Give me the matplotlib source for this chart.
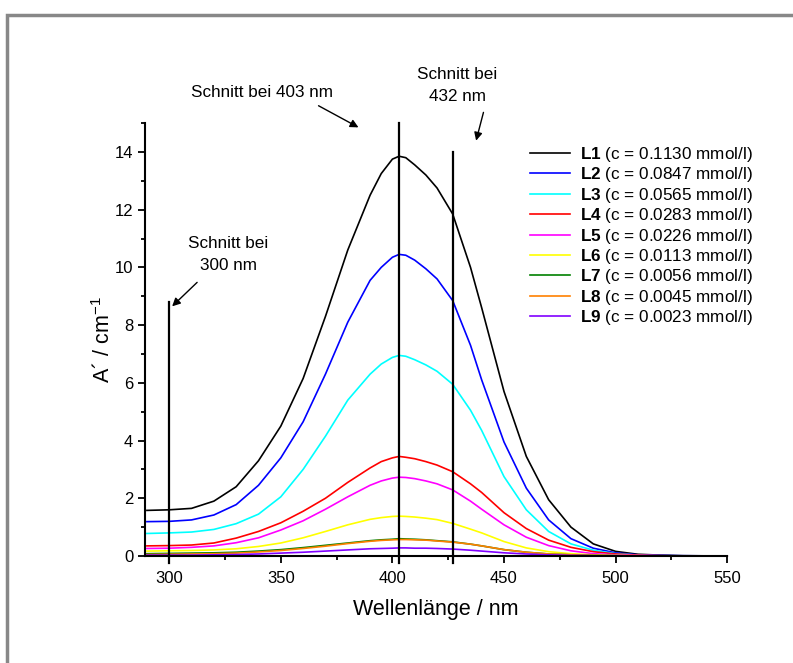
import numpy as np
import matplotlib
matplotlib.use("Agg")
from matplotlib import pyplot as plt
from matplotlib.patches import Rectangle

plt.rcParams['font.family'] = ['Liberation Sans', 'DejaVu Sans']
plt.rcParams['mathtext.fontset'] = 'custom'
plt.rcParams['mathtext.rm'] = 'Liberation Sans'
plt.rcParams['mathtext.bf'] = 'Liberation Sans:bold'

# Wellenlaengen (nm)
wl = [290, 300, 310, 320, 330, 340, 350, 360, 370, 380, 390, 395, 400, 403, 406,
      410, 415, 420, 427, 435, 440, 450, 460, 470, 480, 490, 500, 510, 520, 530, 550]

L1 = [1.58, 1.60, 1.65, 1.90, 2.40, 3.30, 4.50, 6.15, 8.30, 10.6, 12.5, 13.25, 13.75, 13.85, 13.8,
      13.55, 13.2, 12.75, 11.85, 10.0, 8.6, 5.7, 3.45, 1.95, 1.0, 0.42, 0.16, 0.06, 0.03, 0.01, 0.0]
L2 = [1.19, 1.20, 1.25, 1.42, 1.78, 2.45, 3.40, 4.65, 6.3, 8.1, 9.55, 10.0, 10.35, 10.45, 10.42,
      10.25, 9.95, 9.6, 8.85, 7.3, 6.1, 3.95, 2.35, 1.25, 0.6, 0.27, 0.11, 0.04, 0.02, 0.01, 0.0]
L3 = [0.78, 0.80, 0.83, 0.92, 1.12, 1.45, 2.05, 3.0, 4.15, 5.4, 6.3, 6.65, 6.88, 6.95, 6.92,
      6.8, 6.62, 6.4, 5.95, 5.05, 4.35, 2.75, 1.6, 0.85, 0.42, 0.2, 0.08, 0.03, 0.01, 0.0, 0.0]
L4 = [0.35, 0.36, 0.38, 0.45, 0.62, 0.85, 1.15, 1.55, 2.0, 2.55, 3.05, 3.27, 3.4, 3.45, 3.42,
      3.37, 3.27, 3.15, 2.92, 2.5, 2.2, 1.5, 0.95, 0.55, 0.3, 0.15, 0.07, 0.03, 0.01, 0.0, 0.0]
L5 = [0.26, 0.27, 0.30, 0.35, 0.46, 0.63, 0.9, 1.22, 1.62, 2.05, 2.45, 2.6, 2.7, 2.73, 2.72,
      2.68, 2.6, 2.5, 2.29, 1.9, 1.62, 1.08, 0.65, 0.36, 0.18, 0.08, 0.04, 0.02, 0.01, 0.0, 0.0]
L6 = [0.17, 0.18, 0.19, 0.21, 0.25, 0.33, 0.45, 0.63, 0.85, 1.08, 1.27, 1.33, 1.37, 1.38, 1.37,
      1.35, 1.31, 1.26, 1.13, 0.93, 0.8, 0.5, 0.28, 0.15, 0.08, 0.04, 0.02, 0.01, 0.0, 0.0, 0.0]
L7 = [0.08, 0.09, 0.1, 0.11, 0.13, 0.17, 0.22, 0.29, 0.37, 0.45, 0.53, 0.56, 0.58, 0.6, 0.59,
      0.58, 0.56, 0.53, 0.49, 0.41, 0.35, 0.22, 0.13, 0.07, 0.04, 0.02, 0.01, 0.0, 0.0, 0.0, 0.0]
L8 = [0.05, 0.06, 0.07, 0.08, 0.1, 0.14, 0.19, 0.26, 0.34, 0.43, 0.51, 0.54, 0.56, 0.57, 0.57,
      0.56, 0.55, 0.52, 0.48, 0.41, 0.35, 0.22, 0.13, 0.07, 0.04, 0.02, 0.01, 0.0, 0.0, 0.0, 0.0]
L9 = [0.03, 0.03, 0.03, 0.04, 0.05, 0.07, 0.1, 0.13, 0.17, 0.21, 0.25, 0.26, 0.27, 0.28, 0.28,
      0.27, 0.27, 0.26, 0.24, 0.2, 0.17, 0.11, 0.07, 0.04, 0.02, 0.01, 0.01, 0.0, 0.0, 0.0, 0.0]

names = ['L1', 'L2', 'L3', 'L4', 'L5', 'L6', 'L7', 'L8', 'L9']
conc = ['0.1130', '0.0847', '0.0565', '0.0283', '0.0226', '0.0113', '0.0056', '0.0045', '0.0023']
series = [L1, L2, L3, L4, L5, L6, L7, L8, L9]
colors = ['#000000', '#0000ff', '#00ffff', '#ff0000', '#ff00ff', '#ffff00', '#008000', '#ff8000', '#8000ff']

# Schnittlinien
cut_x = [300, 403, 427]
cut_top = [8.8, 15.0, 14.0]

fig = plt.figure(figsize=(7.93, 6.63), dpi=100)
ax = fig.add_axes([0.183, 0.1614, 0.734, 0.653])

for ys, c, n, k in zip(series, colors, names, conc):
    ax.plot(wl, ys, color=c, lw=1.2, clip_on=False, solid_joinstyle='round',
            label=r'$\mathbf{' + n + '}$ (c = ' + k + ' mmol/l)')

for x, t in zip(cut_x, cut_top):
    ax.plot([x, x], [-0.25, t], color='k', lw=1.6, clip_on=False)

ax.set_xlim(289.2, 550)
ax.set_ylim(0, 15)
ax.set_xticks([300, 350, 400, 450, 500, 550])
ax.set_xticks([325, 375, 425, 475, 525], minor=True)
ax.set_yticks(range(0, 15, 2))
ax.set_yticks(range(1, 16, 2), minor=True)
ax.tick_params(which='major', direction='out', length=5, width=1.3, labelsize=12)
ax.tick_params(axis='x', which='major', pad=6)
ax.tick_params(which='minor', direction='out', length=3, width=1.3)
for s in ['top', 'right']:
    ax.spines[s].set_visible(False)
for s in ['left', 'bottom']:
    ax.spines[s].set_linewidth(1.5)

ax.set_xlabel('Wellenlänge / nm', fontsize=15.5, labelpad=9)
ax.set_ylabel('A´ / cm$^{-1}$', fontsize=15.5, labelpad=0)

ax.legend(loc='upper left', bbox_to_anchor=(0.649, 0.965), frameon=False, fontsize=12.3,
          handlelength=2.34, labelspacing=0.08, handletextpad=0.6, borderaxespad=0)

arrow = dict(arrowstyle='-|>', color='k', lw=1.0, mutation_scale=12, shrinkA=0, shrinkB=0)
fs = 12.3
ax.text(341.5, 16.05, 'Schnitt bei 403 nm', ha='center', va='center', fontsize=fs, clip_on=False)
ax.annotate('', xy=(384.8, 14.85), xytext=(366.9, 15.6), arrowprops=arrow, annotation_clip=False)
ax.text(429, 16.3, 'Schnitt bei\n432 nm', ha='center', va='center', fontsize=fs,
        linespacing=1.55, clip_on=False)
ax.annotate('', xy=(437.5, 14.39), xytext=(440.8, 15.37), arrowprops=arrow, annotation_clip=False)
ax.text(326.4, 10.45, 'Schnitt bei\n300 nm', ha='center', va='center', fontsize=fs,
        linespacing=1.55)
ax.annotate('', xy=(301.3, 8.65), xytext=(312.5, 9.48), arrowprops=arrow)

fig.add_artist(Rectangle((7 / 793, -0.2), 1.2, 1.2 - 15 / 663, transform=fig.transFigure,
                         fill=False, edgecolor='#888888', lw=2.5))

fig.savefig('out.png', dpi=100)
